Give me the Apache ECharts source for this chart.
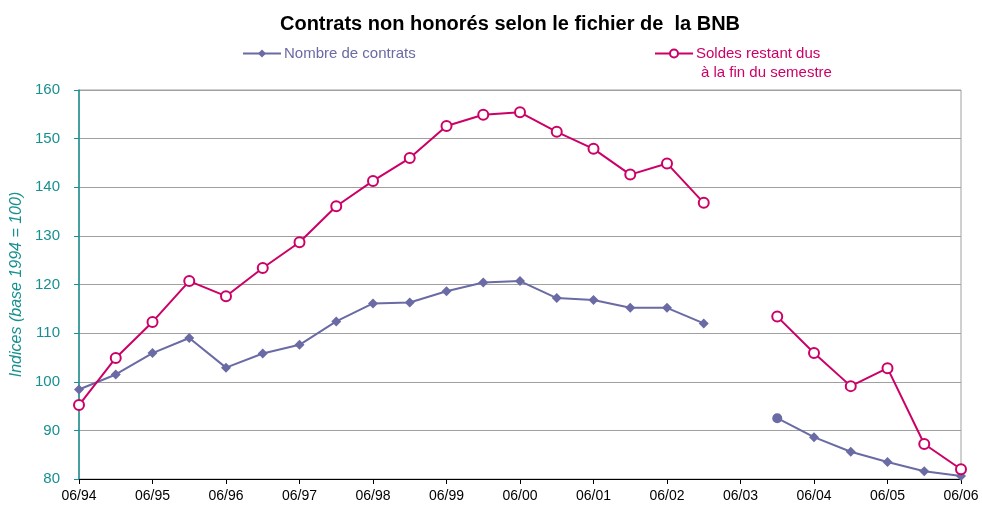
<!DOCTYPE html>
<html>
<head>
<meta charset="utf-8">
<script src="https://cdn.jsdelivr.net/npm/echarts@6/dist/echarts.min.js"></script>
<style>
  html, body { margin: 0; padding: 0; background: #fff; }
  #chart { width: 982px; height: 511px; }
</style>
</head>
<body>
<div id="chart"></div>
<script>
// semestres (juin / décembre)
var periodes = ['06/94', '12/94', '06/95', '12/95', '06/96', '12/96', '06/97', '12/97', '06/98', '12/98',
  '06/99', '12/99', '06/00', '12/00', '06/01', '12/01', '06/02', '12/02', '06/03', '12/03',
  '06/04', '12/04', '06/05', '12/05', '06/06']
// Nombre de contrats (indice)
var contrats = [98.4, 101.5, 105.9, 109.0, 102.9, 105.8, 107.6, 112.4, 116.1, 116.3,
  118.6, 120.4, 120.7, 117.2, 116.8, 115.2, 115.2, 112.0, null, 92.5,
  88.6, 85.6, 83.5, 81.6, 80.6]
// Soldes restant dus (indice)
var soldes = [95.2, 104.9, 112.3, 120.7, 117.6, 123.4, 128.7, 136.1, 141.3, 146.0,
  152.6, 154.9, 155.4, 151.4, 147.9, 142.6, 144.9, 136.8, null, 113.4,
  105.9, 99.1, 102.8, 87.2, 82.0]
var yTicks = [80, 90, 100, 110, 120, 130, 140, 150, 160]

var violet = '#6a6aa4'
var rouge = '#cc0066'
var teal = '#17908f'
var font = 'Liberation Sans, Arial, sans-serif'

var myChart = echarts.init(document.getElementById('chart'))

var option = {
  backgroundColor: '#fff',
  animation: false,
  title: {
    text: 'Contrats non honorés selon le fichier de  la BNB',
    left: 505,
    textAlign: 'center',
    top: 9,
    textStyle: { fontFamily: font, fontSize: 20, fontWeight: 'bold', color: '#000' }
  },
  legend: [{
    data: ['Nombre de contrats'],
    left: 242,
    top: 46,
    padding: 0,
    itemWidth: 38,
    itemHeight: 10,
    itemGap: 4,
    textStyle: { fontFamily: font, fontSize: 15, color: violet, padding: [0, 0, 0, -2] }
  }, {
    data: ['Soldes restant dus'],
    left: 654,
    top: 46,
    padding: 0,
    itemWidth: 38,
    itemHeight: 10,
    textStyle: { fontFamily: font, fontSize: 15, color: rouge, padding: [0, 0, 0, -2] }
  }],
  graphic: [{
    type: 'text',
    left: 701,
    top: 65,
    style: { text: 'à la fin du semestre', fill: rouge, font: '15px ' + font }
  }],
  grid: {
    left: 79,
    right: 21,
    top: 90,
    bottom: 32,
    show: true,
    borderColor: '#a0a0a0',
    borderWidth: 1
  },
  xAxis: {
    type: 'category',
    data: periodes,
    boundaryGap: false,
    axisLine: { lineStyle: { color: '#000', width: 1 } },
    axisTick: { interval: 1, length: 5, lineStyle: { color: '#000' } },
    axisLabel: { interval: 1, color: '#000', fontFamily: font, fontSize: 14, margin: 10 },
    splitLine: { show: false }
  },
  yAxis: {
    type: 'value',
    min: yTicks[0],
    max: yTicks[yTicks.length - 1],
    interval: 10,
    name: 'Indices (base 1994 = 100)',
    nameLocation: 'middle',
    nameGap: 54,
    nameTextStyle: { color: teal, fontFamily: font, fontSize: 16, fontStyle: 'italic' },
    axisLine: { show: true, lineStyle: { color: teal, width: 1.5 } },
    axisTick: { show: true, inside: false, length: 5, lineStyle: { color: teal } },
    axisLabel: { color: teal, fontFamily: font, fontSize: 15, margin: 19 },
    splitLine: { lineStyle: { color: '#a0a0a0', width: 1 } }
  },
  series: [{
    name: 'Nombre de contrats',
    type: 'line',
    data: contrats.map(function (v, i) {
      // point isolé dessiné en rond dans l'original
      return i === 19 ? { value: v, symbol: 'circle', symbolSize: 10 } : v
    }),
    symbol: 'diamond',
    symbolSize: 10,
    showAllSymbol: true,
    connectNulls: false,
    itemStyle: { color: violet },
    lineStyle: { color: violet, width: 2 },
    z: 3
  }, {
    name: 'Soldes restant dus',
    type: 'line',
    data: soldes,
    symbol: 'emptyCircle',
    symbolSize: 10,
    showAllSymbol: true,
    connectNulls: false,
    itemStyle: { color: rouge, borderColor: rouge, borderWidth: 1.5 },
    lineStyle: { color: rouge, width: 2 },
    z: 4
  }]
}

myChart.setOption(option)
</script>
</body>
</html>
